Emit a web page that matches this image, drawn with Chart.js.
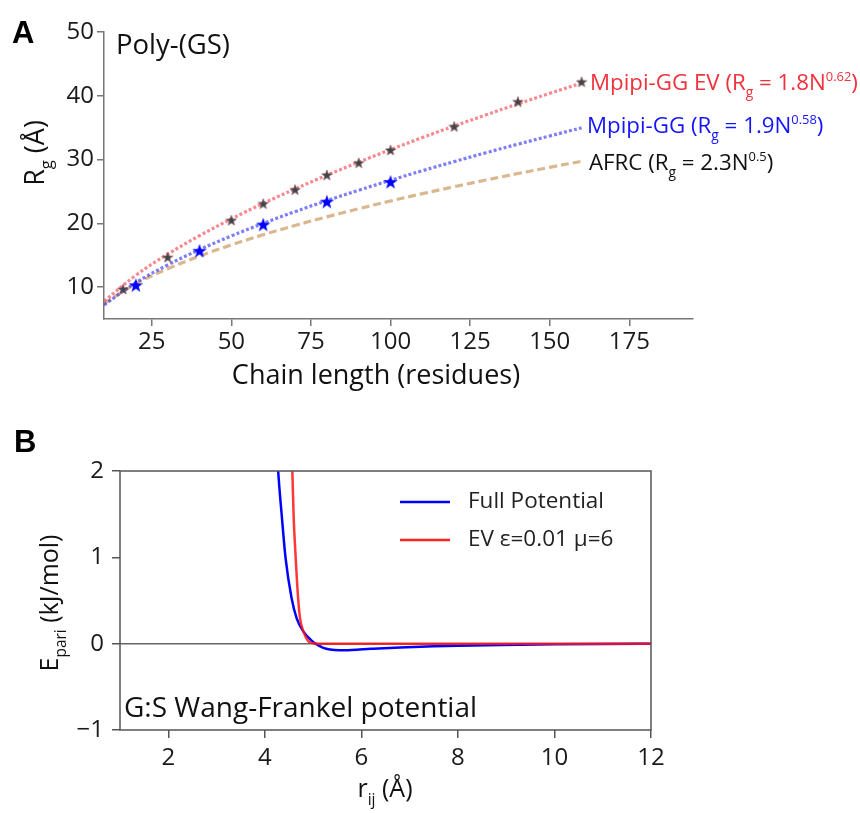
<!DOCTYPE html>
<html><head><meta charset="utf-8">
<script src="https://cdn.jsdelivr.net/npm/chart.js@4.4.1/dist/chart.umd.min.js"></script>
<style>
html,body{margin:0;padding:0;background:#fff;}
#wrap{position:relative;width:860px;height:813px;overflow:hidden;}
.box{position:absolute;left:0;width:860px;}
</style></head><body>
<div id="wrap">
<div class="box" style="top:0;height:400px"><canvas id="c1" width="860" height="400"></canvas></div>
<div class="box" style="top:400px;height:413px"><canvas id="c2" width="860" height="413"></canvas></div>
</div>
<script>
// ---------- Panel A data ----------
const nFit = [10,20,30,40,50,60,70,80,90,100,110,120,130,140,150,160];
const rgEVFit = [7.77,11.85,15.16,18.06,20.69,23.12,25.39,27.54,29.59,31.55,33.44,35.25,37.01,38.72,40.38,41.99];
const rgGGFit = [7.2,10.69,13.47,15.87,18.02,19.99,21.83,23.56,25.19,26.75,28.25,29.68,31.07,32.41,33.70,34.97];
const rgAFRC  = [7.43,10.51,12.87,14.86,16.62,18.20,19.66,21.02,22.29,23.5,24.65,25.74,26.79,27.81,28.78,29.73];
const nEV = [16,30,50,60,70,80,90,100,120,140,160];
const rgEV = [9.7,14.7,20.5,23.1,25.3,27.6,29.5,31.5,35.2,39.1,42.2];
const nGG = [20,40,60,80,100];
const rgGG = [10.3,15.7,19.8,23.4,26.5];
const xTicksA = [25,50,75,100,125,150,175];
const yTicksA = [10,20,30,40,50];

// ---------- Panel B data ----------
const rFull = [4.25,4.277,4.35,4.43,4.555,4.66,4.80,5.0,5.05,5.2,5.35,5.55,5.8,6.2,6.8,7.5,8.0,8.9,10,11,12];
const eFull = [2.3,2.0,1.49,0.99,0.525,0.293,0.139,0.02,0.0,-0.045,-0.068,-0.077,-0.073,-0.06,-0.043,-0.03,-0.024,-0.016,-0.008,-0.004,-0.002];
const rEV = [4.55,4.57,4.596,4.64,4.69,4.73,4.80,4.90,5.0,5.2,6,8,10,12];
const eEV = [2.3,2.0,1.49,0.99,0.525,0.293,0.139,0.03,0.005,-0.002,-0.002,-0.001,0,0];
const xTicksB = [2,4,6,8,10,12];
const yTicksB = [-1,0,1,2];

const labelsA = {
  ev: [{t:'Mpipi-GG EV (R'},{t:'g',sub:1},{t:' = 1.8N'},{t:'0.62',sup:1},{t:')'}],
  gg: [{t:'Mpipi-GG (R'},{t:'g',sub:1},{t:' = 1.9N'},{t:'0.58',sup:1},{t:')'}],
  afrc: [{t:'AFRC (R'},{t:'g',sub:1},{t:' = 2.3N'},{t:'0.5',sup:1},{t:')'}],
  ytitle: [{t:'R'},{t:'g',sub:1},{t:' (Å)'}],
  xtitle: 'Chain length (residues)',
  inset: 'Poly-(GS)',
  panel: 'A'
};
const labelsB = {
  legend: ['Full Potential','EV ε=0.01 μ=6'],
  ytitle: [{t:'E'},{t:'pari',sub:1},{t:' (kJ/mol)'}],
  xtitle: [{t:'r'},{t:'ij',sub:1},{t:' (Å)'}],
  inset: 'G:S Wang-Frankel potential',
  panel: 'B'
};

const FONT = '"Open Sans", Lato, sans-serif';
const PANELFONT = 'bold 31px "Liberation Sans", Arial, sans-serif';

function fontFor(p, size){
  const s = p.sub ? size*0.62 : p.sup ? size*0.58 : size;
  return s.toFixed(1)+'px '+FONT;
}
function richWidth(ctx, parts, size){
  let w=0; for(const p of parts){ctx.font=fontFor(p,size); w+=ctx.measureText(p.t).width;} return w;
}
function drawRich(ctx, parts, x, y, size, color, align){
  const w = richWidth(ctx, parts, size);
  let cx = align==='center' ? x-w/2 : align==='right' ? x-w : x;
  ctx.fillStyle = color; ctx.textAlign='left'; ctx.textBaseline='alphabetic';
  for(const p of parts){
    ctx.font = fontFor(p,size);
    const dy = p.sub ? size*0.3 : p.sup ? -size*0.42 : 0;
    ctx.fillText(p.t, cx, y+dy);
    cx += ctx.measureText(p.t).width;
  }
}
function makeStar(size, fill, stroke){
  const c = document.createElement('canvas'); c.width=c.height=size;
  const g = c.getContext('2d'); const R=size/2-0.5, r=R*0.4, cx=size/2, cy=size/2+0.6;
  g.beginPath();
  for(let i=0;i<10;i++){
    const a = -Math.PI/2 + i*Math.PI/5; const rad = i%2===0?R:r;
    g.lineTo(cx+rad*Math.cos(a), cy+rad*Math.sin(a));
  }
  g.closePath(); g.fillStyle=fill; g.fill();
  if(stroke){g.strokeStyle=stroke; g.lineWidth=0.8; g.stroke();}
  return c;
}
const starEV = makeStar(12, '#34494f', 'rgba(150,70,70,0.7)');
const starGG = makeStar(16, '#0000ff', null);

const tickFont = {family: FONT, size: 24};
const axisGray = '#777';

const plotA = {
  id:'annotA',
  afterDraw(chart){
    const ctx = chart.ctx; ctx.save();
    ctx.font = PANELFONT; ctx.fillStyle='#000'; ctx.textAlign='left'; ctx.textBaseline='alphabetic';
    ctx.fillText(labelsA.panel, 12, 43);
    ctx.font = '27.5px '+FONT; ctx.fillStyle='#111';
    ctx.fillText(labelsA.inset, 116, 54);
    ctx.font = '27px '+FONT;
    ctx.textAlign='center';
    ctx.fillText(labelsA.xtitle, 376, 384);
    drawRich(ctx, labelsA.ev, 590, 90, 22.3, '#f0323c','left');
    drawRich(ctx, labelsA.gg, 587, 133, 22.3, '#1414ff','left');
    drawRich(ctx, labelsA.afrc, 589, 170, 22.3, '#111','left');
    ctx.translate(44, 153); ctx.rotate(-Math.PI/2);
    drawRich(ctx, labelsA.ytitle, 0, 0, 27, '#111','center');
    ctx.restore();
  }
};

new Chart(document.getElementById('c1'), {
  type:'line',
  data:{ datasets:[
    {label:'Mpipi-GG EV sim', data:nEV.map((n,i)=>({x:n,y:rgEV[i]})), showLine:false, pointStyle:starEV, pointRadius:6, order:0},
    {label:'Mpipi-GG sim', data:nGG.map((n,i)=>({x:n,y:rgGG[i]})), showLine:false, pointStyle:starGG, pointRadius:8, order:0},
    {label:'Mpipi-GG fit', data:nFit.map((n,i)=>({x:n,y:rgGGFit[i]})), borderColor:'rgba(40,40,245,0.6)', borderWidth:3.2, borderDash:[3,2.2], pointRadius:0, tension:0.4, order:1},
    {label:'Mpipi-GG EV fit', data:nFit.map((n,i)=>({x:n,y:rgEVFit[i]})), borderColor:'rgba(240,60,70,0.6)', borderWidth:3.2, borderDash:[3,2.2], pointRadius:0, tension:0.4, order:2},
    {label:'AFRC', data:nFit.map((n,i)=>({x:n,y:rgAFRC[i]})), borderColor:'rgba(205,160,105,0.75)', borderWidth:3.2, borderDash:[8,4], pointRadius:0, tension:0.4, order:3}
  ]},
  options:{
    responsive:false, animation:false, devicePixelRatio:1,
    layout:{padding:{left:0,top:32,right:167,bottom:0}},
    plugins:{legend:{display:false}, tooltip:{enabled:false}},
    scales:{
      x:{type:'linear', min:10, max:195,
        afterBuildTicks(s){ s.ticks = xTicksA.map(v=>({value:v})); },
        afterFit(s){ s.height = 81; },
        ticks:{font:tickFont, color:'#1a1a1a', padding:2, maxRotation:0, autoSkip:false},
        grid:{drawOnChartArea:false, drawTicks:true, tickLength:7, color:axisGray, lineWidth:1.5},
        border:{color:axisGray, width:1.5}},
      y:{type:'linear', min:5, max:50,
        afterBuildTicks(s){ s.ticks = yTicksA.map(v=>({value:v})); },
        afterFit(s){ s.width = 104; },
        ticks:{font:tickFont, color:'#1a1a1a', padding:3, autoSkip:false},
        grid:{drawOnChartArea:false, drawTicks:true, tickLength:7, color:axisGray, lineWidth:1.5},
        border:{color:axisGray, width:1.5}}
    }
  },
  plugins:[plotA]
});

const plotB = {
  id:'annotB',
  beforeDatasetsDraw(chart){
    const {ctx, chartArea:a, scales} = chart; ctx.save();
    const y0 = scales.y.getPixelForValue(0);
    ctx.strokeStyle='#666'; ctx.lineWidth=1.5;
    ctx.beginPath(); ctx.moveTo(a.left,y0); ctx.lineTo(a.right,y0); ctx.stroke();
    ctx.restore();
  },
  afterDraw(chart){
    const {ctx, chartArea:a} = chart; ctx.save();
    ctx.strokeStyle='#555'; ctx.lineWidth=1.5;
    ctx.strokeRect(a.left, a.top, a.right-a.left, a.bottom-a.top);
    ctx.font = PANELFONT; ctx.fillStyle='#000'; ctx.textAlign='left'; ctx.textBaseline='alphabetic';
    ctx.fillText(labelsB.panel, 14, 52);
    // legend
    const cols = ['#0000ff','#ff2020'];
    const ys = [102, 140];
    for(let i=0;i<2;i++){
      ctx.strokeStyle=cols[i]; ctx.lineWidth=2.5;
      ctx.beginPath(); ctx.moveTo(400,ys[i]); ctx.lineTo(450,ys[i]); ctx.stroke();
      ctx.font='22.5px '+FONT; ctx.fillStyle='#222'; ctx.textBaseline='middle';
      ctx.fillText(labelsB.legend[i], 468, ys[i]);
    }
    ctx.textBaseline='alphabetic';
    ctx.font='28px '+FONT; ctx.fillStyle='#111';
    ctx.fillText(labelsB.inset, 124, 317);
    drawRich(ctx, labelsB.xtitle, 385, 397, 25, '#111', 'center');
    ctx.translate(58, 203); ctx.rotate(-Math.PI/2);
    drawRich(ctx, labelsB.ytitle, 0, 0, 25, '#111', 'center');
    ctx.restore();
  }
};

new Chart(document.getElementById('c2'), {
  type:'line',
  data:{ datasets:[
    {label:labelsB.legend[1], data:rEV.map((r,i)=>({x:r,y:eEV[i]})), borderColor:'rgba(255,20,20,0.85)', borderWidth:2.5, pointRadius:0, cubicInterpolationMode:'monotone', clip:0, order:0},
    {label:labelsB.legend[0], data:rFull.map((r,i)=>({x:r,y:eFull[i]})), borderColor:'#0000ff', borderWidth:2.5, pointRadius:0, cubicInterpolationMode:'monotone', clip:0, order:1}
  ]},
  options:{
    responsive:false, animation:false, devicePixelRatio:1,
    layout:{padding:{left:0,top:71,right:209,bottom:0}},
    plugins:{legend:{display:false}, tooltip:{enabled:false}},
    scales:{
      x:{type:'linear', min:1, max:12,
        afterBuildTicks(s){ s.ticks = xTicksB.map(v=>({value:v})); },
        afterFit(s){ s.height = 83; },
        ticks:{font:tickFont, color:'#1a1a1a', padding:6, maxRotation:0, autoSkip:false},
        grid:{drawOnChartArea:false, drawTicks:true, tickLength:8, color:'#555', lineWidth:1.5},
        border:{display:false}},
      y:{type:'linear', min:-1, max:2,
        afterBuildTicks(s){ s.ticks = yTicksB.map(v=>({value:v})); },
        afterFit(s){ s.width = 120; },
        ticks:{font:tickFont, color:'#1a1a1a', padding:8, autoSkip:false,
          callback:v=>String(v).replace('-','\u2212')},
        grid:{drawOnChartArea:false, drawTicks:true, tickLength:8, color:'#555', lineWidth:1.5},
        border:{display:false}}
    }
  },
  plugins:[plotB]
});
</script>
</body></html>
